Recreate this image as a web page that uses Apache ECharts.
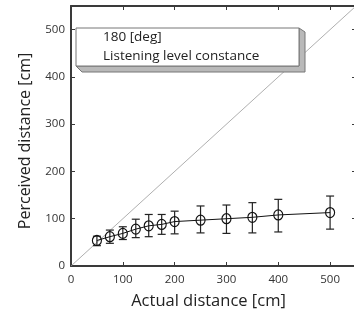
<!DOCTYPE html>
<html>
<head>
<meta charset="utf-8">
<style>
  html, body { margin: 0; padding: 0; background: #fff; }
  #chart { width: 354px; height: 318px; }
</style>
<script src="https://cdn.jsdelivr.net/npm/echarts@6/dist/echarts.min.js"></script>
</head>
<body>
<div id="chart"></div>
<script>
// values
const actual = [50, 75, 100, 125, 150, 175, 200, 250, 300, 350, 400, 500];
const perceived = [54, 62, 69, 78, 85, 88, 94, 97, 100, 103, 108, 113];
const errLow = [43, 48, 56, 60, 62, 67, 68, 70, 69, 70, 72, 78];
const errHigh = [63, 76, 83, 99, 109, 109, 116, 127, 129, 134, 141, 148];
const diagonal = [0, 550];
const ticks = [0, 100, 200, 300, 400, 500];

const font = '"Open Sans", "DejaVu Sans", sans-serif';
const axisColor = '#3a3a3a';

const chart = echarts.init(document.getElementById('chart'));

const baseAxis = {
  type: 'value',
  min: 0,
  max: 550,
  interval: 100,
  axisLine: { show: true, onZero: false, lineStyle: { color: axisColor, width: 2 } },
  axisTick: { show: true, inside: true, length: 4, lineStyle: { color: axisColor, width: 1 } },
  splitLine: { show: false },
  axisLabel: {
    color: '#333', fontFamily: font, fontSize: 11.5,
    formatter: v => (ticks.includes(v) ? String(v) : '')
  }
};

chart.setOption({
  animation: false,
  grid: { left: 71, top: 6, right: -2, bottom: 52, outerBoundsMode: 'none' },
  xAxis: [
    Object.assign({}, baseAxis, {
      position: 'bottom',
      name: 'Actual distance [cm]',
      nameLocation: 'middle',
      nameGap: 27,
      nameTextStyle: { color: '#222', fontFamily: font, fontSize: 16.5, padding: [0, 10, 0, 0] },
      axisLabel: Object.assign({}, baseAxis.axisLabel, { margin: 8 })
    }),
    Object.assign({}, baseAxis, { position: 'top', axisLabel: { show: false } })
  ],
  yAxis: [
    Object.assign({}, baseAxis, {
      position: 'left',
      name: 'Perceived distance [cm]',
      nameLocation: 'middle',
      nameGap: 38,
      nameTextStyle: { color: '#222', fontFamily: font, fontSize: 16, padding: [0, 10, 0, 0] },
      axisLabel: Object.assign({}, baseAxis.axisLabel, { margin: 6 })
    }),
    Object.assign({}, baseAxis, { position: 'right', axisLabel: { show: false } })
  ],
  graphic: [
    {
      type: 'polygon',
      shape: { points: [[76, 66], [82, 72], [305, 72], [305, 32], [299, 28], [299, 66]] },
      style: { fill: '#b9b9b9', stroke: '#777', lineWidth: 1 },
      z: 100
    },
    {
      type: 'rect',
      shape: { x: 76, y: 28, width: 223, height: 38 },
      style: { fill: '#fff', stroke: '#777', lineWidth: 1 },
      z: 101
    },
    {
      type: 'text',
      x: 103, y: 37.5,
      style: { text: '180 [deg]', fill: '#222', font: '13.5px ' + font, verticalAlign: 'middle' },
      z: 102
    },
    {
      type: 'text',
      x: 103, y: 56.5,
      style: { text: 'Listening level constance', fill: '#222', font: '13.5px ' + font, verticalAlign: 'middle' },
      z: 102
    }
  ],
  series: [
    {
      type: 'line',
      data: diagonal.map(v => [v, v]),
      symbol: 'none',
      lineStyle: { color: '#9a9a9a', width: 0.8 },
      silent: true,
      z: 1
    },
    {
      type: 'custom',
      data: actual.map((x, i) => [x, errLow[i], errHigh[i]]),
      renderItem: (params, api) => {
        const lo = api.coord([api.value(0), api.value(1)]);
        const hi = api.coord([api.value(0), api.value(2)]);
        const cap = 4;
        const style = { stroke: '#222', lineWidth: 1.2 };
        return {
          type: 'group',
          children: [
            { type: 'line', shape: { x1: lo[0], y1: lo[1], x2: hi[0], y2: hi[1] }, style },
            { type: 'line', shape: { x1: lo[0] - cap, y1: lo[1], x2: lo[0] + cap, y2: lo[1] }, style },
            { type: 'line', shape: { x1: hi[0] - cap, y1: hi[1], x2: hi[0] + cap, y2: hi[1] }, style }
          ]
        };
      },
      z: 2
    },
    {
      type: 'line',
      data: actual.map((x, i) => [x, perceived[i]]),
      symbol: 'circle',
      symbolSize: [9, 10],
      itemStyle: { color: 'rgba(255,255,255,0)', borderColor: '#111', borderWidth: 1.2 },
      lineStyle: { color: '#111', width: 1 },
      z: 3
    }
  ]
});
</script>
</body>
</html>
